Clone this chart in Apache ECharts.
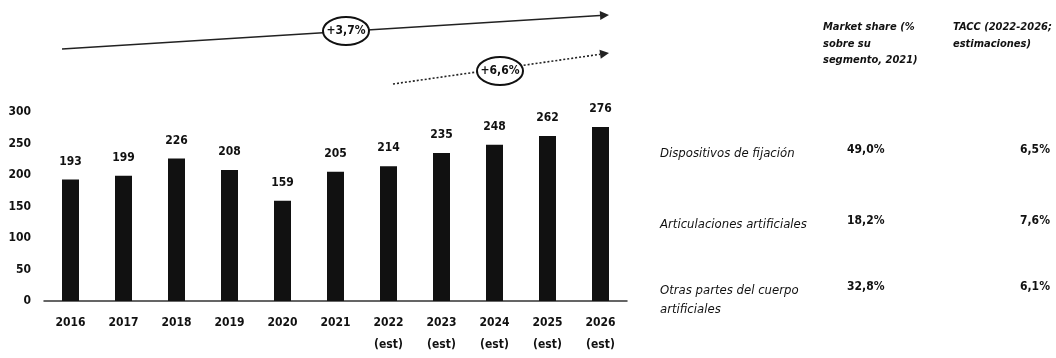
<!DOCTYPE html>
<html>
<head>
<meta charset="utf-8">
<script src="https://cdn.jsdelivr.net/npm/echarts@6/dist/echarts.min.js"></script>
<style>
html,body{margin:0;padding:0;background:#fff;}
#chart{width:1056px;height:358px;}
</style>
</head>
<body>
<div id="chart"></div>
<script>
// ---- data ----
const categories = ['2016','2017','2018','2019','2020','2021','2022\n(est)','2023\n(est)','2024\n(est)','2025\n(est)','2026\n(est)'];
const values = [193, 199, 226, 208, 159, 205, 214, 235, 248, 262, 276];
const yTicks = [0, 50, 100, 150, 200, 250, 300];
const cagrLabels = ['+3,7%', '+6,6%'];
const headerShare = 'Market share (%\nsobre su\nsegmento, 2021)';
const headerTacc = 'TACC (2022-2026;\nestimaciones)';
const segments = ['Dispositivos de fijación', 'Articulaciones artificiales', 'Otras partes del cuerpo\nartificiales'];
const marketShare = ['49,0%', '18,2%', '32,8%'];
const tacc = ['6,5%', '7,6%', '6,1%'];

// ---- chart ----
const FONT = "'Liberation Sans Narrow','DejaVu Sans Condensed','Open Sans',sans-serif";
const chart = echarts.init(document.getElementById('chart'), null, {renderer: 'canvas'});

const rowY = [152, 223, 289];
const tableGraphics = [];
tableGraphics.push({type:'text', x:823, y:19, style:{text:headerShare, font:"italic bold 11px " + FONT, fill:'#111', lineHeight:16.5, verticalAlign:'top'}});
tableGraphics.push({type:'text', x:953, y:19, style:{text:headerTacc, font:"italic bold 11px " + FONT, fill:'#111', lineHeight:16.5, verticalAlign:'top'}});
segments.forEach((s, i) => {
  tableGraphics.push({type:'text', x:660, y:rowY[i] - 8, style:{text:s, font:"italic 13px " + FONT, fill:'#111', lineHeight:19, verticalAlign:'top'}});
  tableGraphics.push({type:'text', x:847, y:rowY[i] - 8, style:{text:marketShare[i], font:"bold 12px " + FONT, fill:'#111', verticalAlign:'top'}});
  tableGraphics.push({type:'text', x:1020, y:rowY[i] - 8, style:{text:tacc[i], font:"bold 12px " + FONT, fill:'#111', verticalAlign:'top'}});
});

function arrowGroup(x1, y1, x2, y2, dashed, cx, cy, label) {
  const ang = Math.atan2(y2 - y1, x2 - x1);
  const L = 9, W = 4.5;
  const bx = x2 - L * Math.cos(ang), by = y2 - L * Math.sin(ang);
  const px = -Math.sin(ang), py = Math.cos(ang);
  return [
    {type:'line', shape:{x1:x1, y1:y1, x2:bx, y2:by}, style:{stroke:'#222', lineWidth:1.6, lineDash: dashed ? [2,2] : null}},
    {type:'polygon', shape:{points:[[x2,y2],[bx + px*W, by + py*W],[bx - px*W, by - py*W]]}, style:{fill:'#222'}},
    {type:'ellipse', shape:{cx:cx, cy:cy, rx:23, ry:14}, style:{fill:'#fff', stroke:'#111', lineWidth:2}},
    {type:'text', x:cx, y:cy, style:{text:label, font:"bold 12px " + FONT, fill:'#111', align:'center', verticalAlign:'middle'}}
  ];
}

const option = {
  backgroundColor: '#fff',
  animation: false,
  grid: {left: 44, right: 429, top: 112, bottom: 57, containLabel: false},
  xAxis: {
    type: 'category',
    data: categories,
    axisLine: {show: true, lineStyle: {color: '#333', width: 1.5}},
    axisTick: {show: false},
    axisLabel: {color: '#111', fontFamily: FONT, fontSize: 12, fontWeight: 'bold', margin: 11, lineHeight: 22, interval: 0}
  },
  yAxis: {
    type: 'value',
    min: yTicks[0],
    max: yTicks[yTicks.length - 1],
    interval: yTicks[1] - yTicks[0],
    axisLine: {show: false},
    axisTick: {show: false},
    splitLine: {show: false},
    axisLabel: {color: '#111', fontFamily: FONT, fontSize: 12, fontWeight: 'bold', margin: 13}
  },
  series: [{
    type: 'bar',
    data: values,
    barWidth: 17,
    itemStyle: {color: '#111'},
    label: {show: true, position: 'top', distance: 12, color: '#111', fontFamily: FONT, fontSize: 12, fontWeight: 'bold'}
  }],
  graphic: [].concat(
    arrowGroup(62, 49, 609, 15, false, 346, 31, cagrLabels[0]),
    arrowGroup(393, 84, 609, 53, true, 500, 71, cagrLabels[1]),
    tableGraphics
  )
};
chart.setOption(option);
</script>
</body>
</html>
